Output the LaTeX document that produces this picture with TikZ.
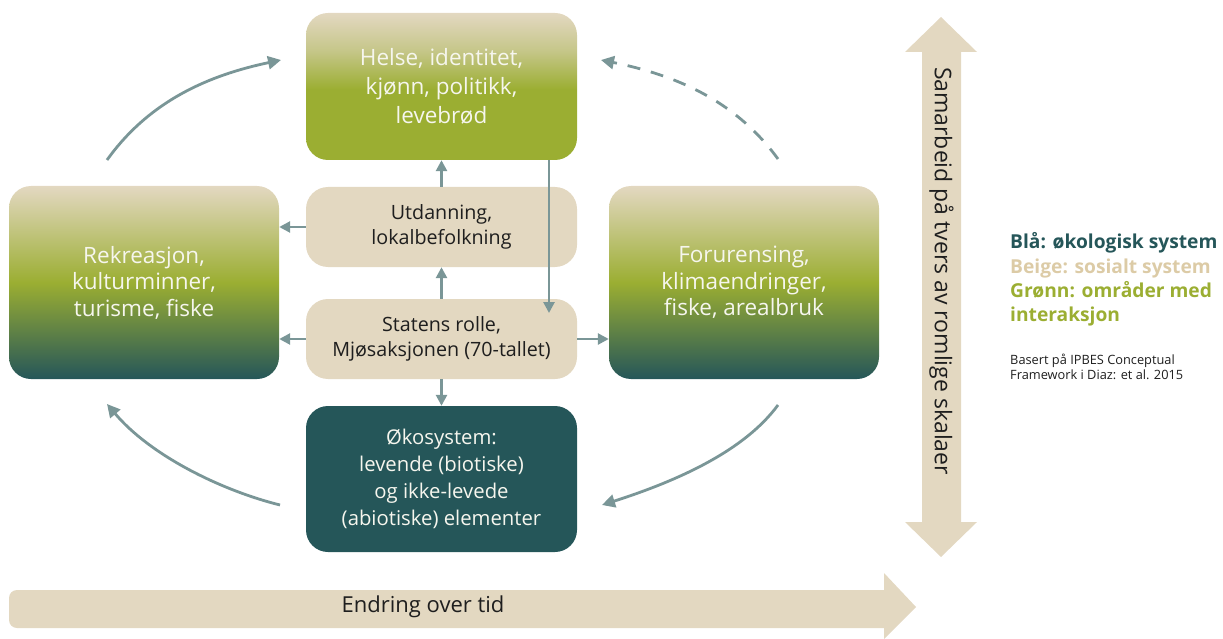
\documentclass[tikz,border=0pt]{standalone}
\usepackage{fontspec}
\setmainfont{Open Sans}
\usetikzlibrary{arrows.meta}
\definecolor{bg}{HTML}{E3D8C1}
\definecolor{gr}{HTML}{9BAE32}
\definecolor{tl}{HTML}{255659}
\definecolor{ar}{HTML}{7A9697}
\definecolor{lgbeige}{HTML}{DCCBA6}
\definecolor{txt}{HTML}{1E1E1E}
\definecolor{wt}{HTML}{F6F6EE}
\definecolor{hmid}{HTML}{C5C688}
\pgfdeclareverticalshading{helseshade}{100bp}{color(0bp)=(gr); color(25bp)=(gr); color(49bp)=(gr); color(62bp)=(hmid); color(75bp)=(bg); color(100bp)=(bg)}
\pgfdeclareverticalshading{sideshade}{100bp}{color(0bp)=(tl); color(25bp)=(tl); color(50bp)=(gr); color(75bp)=(bg); color(100bp)=(bg)}
\begin{document}
\begin{tikzpicture}[x=1pt,y=-1pt,
  box/.style={rounded corners=22pt, minimum width=271pt, inner sep=0pt, align=center},
  bigtext/.style={font=\fontsize{22.5}{29}\selectfont, text=wt},
  midtext/.style={font=\fontsize{19.7}{25}\selectfont, text=txt},
  socbox/.style={box, fill=bg, minimum height=80pt, midtext},
  sidebox/.style={box, minimum width=270pt, minimum height=193pt, shading=sideshade, text=wt, font=\fontsize{22.5}{26.5}\selectfont},
  arr/.style={draw=ar, line width=2.6pt, -{Triangle[length=11pt,width=11pt]}},
  carr/.style={draw=ar, line width=2.8pt, -{Triangle[length=13pt,width=13pt]}},
  leg/.style={anchor=base west, inner sep=0pt, font=\fontsize{19.2}{22}\selectfont\bfseries},
  note/.style={anchor=base west, inner sep=0pt, font=\fontsize{12.8}{15}\selectfont, text=txt}
]
\useasboundingbox (0,0) rectangle (1223,639);

% big arrows
\fill[bg] (941,17) -- (977,52) -- (961,52) -- (961,522) -- (977,522) -- (941,557)
  -- (905,522) -- (922,522) -- (922,52) -- (905,52) -- cycle;
\node[rotate=-90, font=\fontsize{23}{27}\selectfont, text=txt] (samarbeid) at (941.5,271) {Samarbeid på tvers av romlige skalaer};
\fill[bg, rounded corners=8pt] (892,628) -- (9,628) -- (9,590) -- (892,590) -- cycle;
\fill[bg] (884,573) -- (916,607) -- (884,639) -- cycle;
\node[font=\fontsize{22}{26}\selectfont, text=txt] (endring) at (423,607) {Endring over tid};

% boxes
\node[box, shading=helseshade, minimum height=147pt, bigtext] (helse) at (441.5,86.5) {Helse, identitet,\\kjønn, politikk,\\levebrød};
\node[socbox] (utd) at (441.5,227) {Utdanning,\\lokalbefolkning};
\node[socbox] (stat) at (441.5,339) {Statens rolle,\\Mjøsaksjonen (70-tallet)};
\node[box, fill=tl, minimum height=146pt, font=\fontsize{20.3}{27}\selectfont, text=wt] (oko) at (441.5,479) {Økosystem:\\levende (biotiske)\\og ikke-levede\\(abiotiske) elementer};
\node[sidebox] (rek) at (144,282.5) {Rekreasjon,\\kulturminner,\\turisme, fiske};
\node[sidebox] (for) at (744,282.5) {Forurensing,\\klimaendringer,\\fiske, arealbruk};

% straight connectors
\draw[arr] (utd.north) -- (helse.south);
\draw[arr] (stat.north) -- (utd.south);
\draw[arr] (stat.south) -- (oko.north);
\draw[arr] (utd.west) -- (utd.west -| rek.east);
\draw[arr] (stat.west) -- (stat.west -| rek.east);
\draw[arr] (stat.east) -- (stat.east -| for.west);
\coordinate (v1) at (549,160);
\coordinate (v2) at (549,313);
\draw[arr] (v1) -- (v2);

% curved connectors
\coordinate (c1a) at (107,160); \coordinate (c1b) at (281,60);
\draw[carr] (c1a) .. controls (150,100) and (210,75) .. (c1b);
\coordinate (c2a) at (778,159); \coordinate (c2b) at (601,60);
\draw[carr, dash pattern=on 13pt off 11pt] (c2a) .. controls (735,100) and (675,75) .. (c2b);
\coordinate (c3a) at (778,405); \coordinate (c3b) at (602,505);
\draw[carr] (c3a) .. controls (745,450) and (680,480) .. (c3b);
\coordinate (c4a) at (280,505); \coordinate (c4b) at (107,404);
\draw[carr] (c4a) .. controls (220,490) and (150,455) .. (c4b);

% legend
\node[leg, text=tl] (l1) at (1010,248) {Blå: økologisk system};
\node[leg, text=lgbeige] (l2) at (1010,273) {Beige: sosialt system};
\node[leg, text=gr] (l3) at (1010,297) {Grønn: områder med};
\node[leg, text=gr] (l4) at (1010,321) {interaksjon};
\node[note] (n1) at (1010,364) {Basert på IPBES Conceptual};
\node[note] (n2) at (1010,379) {Framework i Diaz: et al. 2015};
\end{tikzpicture}
\end{document}
